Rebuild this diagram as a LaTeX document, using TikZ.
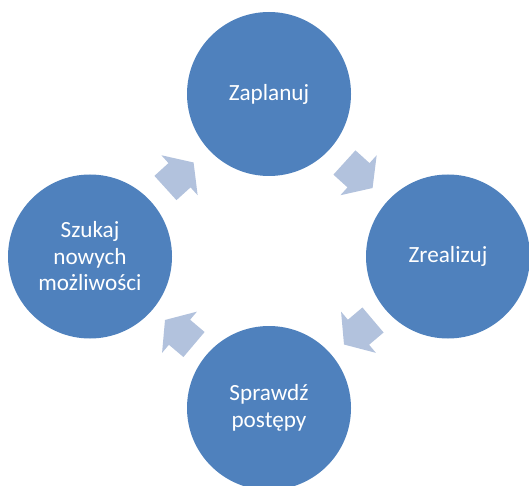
\documentclass[tikz,border=0pt]{standalone}
\usepackage{fontspec}
\setmainfont{Carlito}
\usetikzlibrary{calc}
\definecolor{cyBlue}{RGB}{79,129,189}
\definecolor{cyArrow}{RGB}{178,194,221}
\tikzset{
  stage/.style={circle, fill=cyBlue, text=white, minimum size=164pt, inner sep=0pt,
    align=center, font=\fontsize{23.2}{26.5}\selectfont},
  cyclearrow/.pic={
    \fill[cyArrow] (-19,-16.4) -- (0,-16.4) -- (0,-27) -- (19,0) -- (0,27)
      -- (0,16.4) -- (-19,16.4) -- cycle;
  }
}
% block arrow half way between two stages, turned from the first to the second
\newcommand{\stagearrow}[2]{%
  \path let \p1 = ($(#2)-(#1)$), \n1 = {atan2(\y1,\x1)} in
    ($(#1)!0.5!(#2)$) pic[rotate=\n1] {cyclearrow};}

\begin{document}
\begin{tikzpicture}[x=1pt,y=1pt]
  \useasboundingbox (0,0) rectangle (529,485);
  \clip (0,0) rectangle (529,485);

  % Stages
  \node[stage] (plan) at (269,391) {Zaplanuj};
  \node[stage] (real) at (448,228.5) {Zrealizuj};
  \node[stage] (check) at (269,77) {Sprawdź\\postępy};
  \node[stage] (seek) at (90,228.5) {Szukaj\\nowych\\możliwości};

  % Arrows round the cycle
  \stagearrow{plan}{real}
  \stagearrow{real}{check}
  \stagearrow{check}{seek}
  \stagearrow{seek}{plan}
\end{tikzpicture}
\end{document}
